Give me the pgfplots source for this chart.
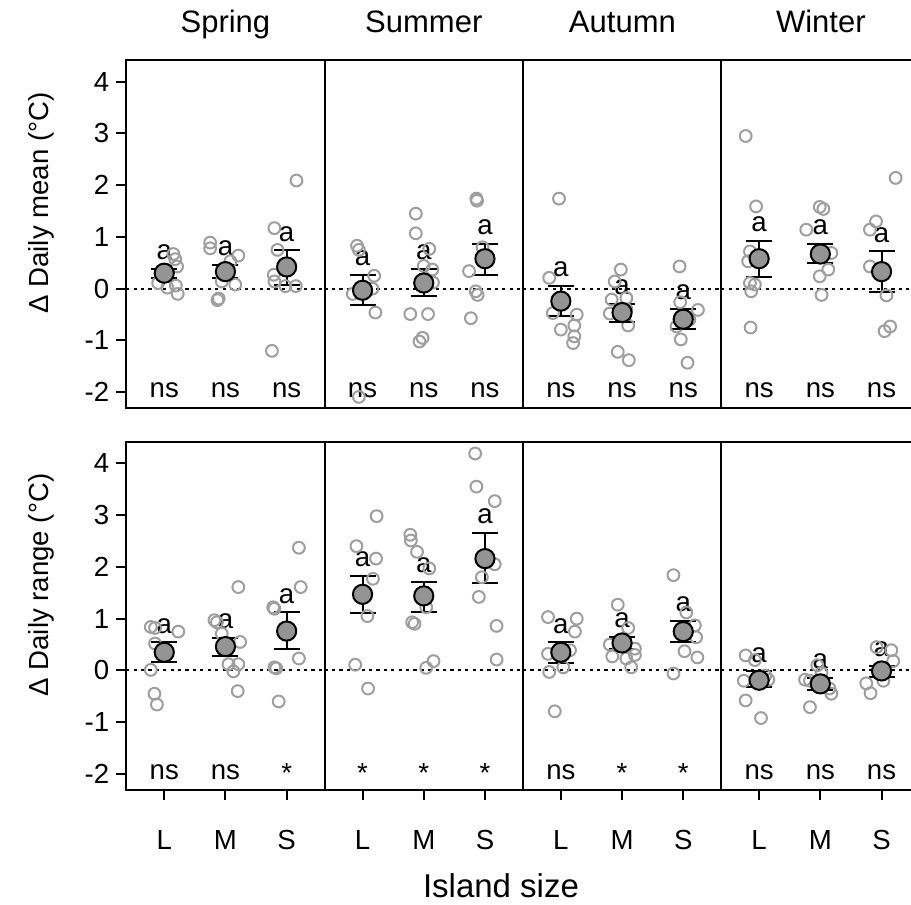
\documentclass[border=0pt]{standalone}
\usepackage{pgfplots}
\pgfplotsset{compat=1.18}
\usepackage{pgfplotstable}
\usepackage{fontspec}
\setmainfont{Liberation Sans}
\definecolor{ptgray}{gray}{0.62}
\definecolor{mngray}{gray}{0.58}
\newcommand{\fs}{\fontsize{13.8}{16}\selectfont}
\newcommand{\tfs}{\fontsize{15.5}{18}\selectfont}

% ---- points (x = category + jitter, y = value) ----
\pgfplotstableread{
x y
1.15 0.67
1.18 0.57
1.21 0.43
0.90 0.11
1.19 0.06
1.05 0.02
1.22 -0.10
1.75 0.89
1.75 0.78
2.21 0.64
2.08 0.53
1.94 0.14
2.16 0.08
1.89 -0.19
1.87 -0.22
3.16 2.09
2.80 1.17
2.85 0.75
2.79 0.27
2.80 0.14
2.98 0.05
3.15 0.05
2.76 -1.20
}\tA
\pgfplotstableread{
x y
0.91 0.83
0.94 0.75
1.19 0.25
1.16 0.00
0.84 -0.10
1.21 -0.46
0.94 -2.09
1.87 1.45
1.87 1.07
2.09 0.77
2.00 0.44
2.14 0.37
2.15 0.12
1.78 -0.49
2.07 -0.49
1.98 -0.95
1.93 -1.02
2.86 1.74
2.87 1.70
2.96 0.80
2.74 0.34
2.85 -0.05
2.88 -0.12
2.77 -0.57
}\tB
\pgfplotstableread{
x y
0.97 1.74
0.81 0.21
0.87 -0.47
1.26 -0.50
1.22 -0.71
1.00 -0.79
1.22 -0.92
1.20 -1.05
1.98 0.37
1.88 0.14
1.83 -0.21
2.07 -0.18
2.07 -0.40
1.80 -0.48
2.10 -0.71
1.93 -1.22
2.11 -1.38
2.94 0.43
2.95 -0.26
3.24 -0.41
3.10 -0.60
2.89 -0.73
2.96 -0.98
3.07 -1.43
}\tC
\pgfplotstableread{
x y
0.78 2.95
0.95 1.59
0.85 0.72
0.82 0.53
0.85 0.11
0.93 0.08
0.87 -0.05
0.86 -0.75
1.99 1.58
2.05 1.54
1.77 1.14
2.18 0.69
2.13 0.37
1.99 0.24
2.02 -0.12
3.23 2.14
2.91 1.30
2.81 1.14
2.81 0.43
3.08 -0.13
3.14 -0.73
3.05 -0.82
}\tD
\pgfplotstableread{
x y
0.78 0.84
0.85 0.82
1.23 0.75
0.85 0.52
0.78 0.01
0.84 -0.45
0.88 -0.66
2.21 1.61
1.82 0.97
1.86 0.93
1.94 0.71
2.24 0.55
2.05 0.12
2.21 0.12
2.13 -0.02
2.20 -0.40
3.20 2.37
3.23 1.61
2.78 1.22
2.80 1.19
3.20 0.23
2.80 0.06
2.83 0.04
2.87 -0.60
}\bA
\pgfplotstableread{
x y
1.23 2.98
0.90 2.40
1.22 2.16
1.17 1.77
1.08 1.05
0.88 0.11
1.09 -0.35
1.78 2.62
1.79 2.51
1.89 2.29
2.09 1.97
2.04 1.22
1.81 0.93
1.85 0.90
2.16 0.18
2.04 0.05
2.84 4.19
2.86 3.55
3.16 3.27
3.16 2.05
2.95 1.80
2.90 1.42
3.19 0.86
3.19 0.21
}\bB
\pgfplotstableread{
x y
0.79 1.03
1.26 1.00
1.23 0.75
1.15 0.39
0.79 0.32
1.04 0.06
0.81 -0.03
0.90 -0.79
1.93 1.27
2.10 0.82
1.80 0.50
2.21 0.42
2.21 0.30
1.84 0.27
2.07 0.23
2.15 0.06
2.84 1.84
3.05 1.12
3.19 0.87
3.21 0.64
3.02 0.37
3.23 0.25
2.84 -0.06
}\bC
\pgfplotstableread{
x y
0.78 0.29
0.93 0.20
1.10 -0.10
1.15 -0.18
0.75 -0.20
0.78 -0.58
1.03 -0.92
1.95 0.10
2.02 -0.05
1.75 -0.18
1.83 -0.20
2.15 -0.35
2.18 -0.45
1.83 -0.71
2.92 0.45
3.16 0.39
3.19 0.18
3.03 -0.20
2.75 -0.25
2.82 -0.44
}\bD

% ---- means with standard errors ----
\pgfplotstableread{
x y ep em
1 0.30 0.09 0.09
2 0.33 0.13 0.12
3 0.42 0.32 0.34
}\mtA
\pgfplotstableread{
x y ep em
1 -0.03 0.30 0.29
2 0.11 0.28 0.26
3 0.58 0.28 0.31
}\mtB
\pgfplotstableread{
x y ep em
1 -0.24 0.29 0.29
2 -0.46 0.17 0.18
3 -0.59 0.20 0.18
}\mtC
\pgfplotstableread{
x y ep em
1 0.58 0.35 0.36
2 0.67 0.20 0.17
3 0.33 0.39 0.40
}\mtD
\pgfplotstableread{
x y ep em
1 0.35 0.19 0.19
2 0.46 0.17 0.19
3 0.76 0.36 0.35
}\mbA
\pgfplotstableread{
x y ep em
1 1.47 0.35 0.37
2 1.44 0.27 0.31
3 2.16 0.50 0.48
}\mbB
\pgfplotstableread{
x y ep em
1 0.35 0.19 0.20
2 0.53 0.11 0.12
3 0.75 0.20 0.20
}\mbC
\pgfplotstableread{
x y ep em
1 -0.19 0.17 0.13
2 -0.26 0.11 0.11
3 -0.01 0.09 0.12
}\mbD

\pgfplotsset{
  panel/.style={anchor=south west, scale only axis, height=174.2pt,
    xmin=0.38, ymin=-2.31, ymax=4.42, clip=false,
    axis line style={line width=1pt},
    xtick=\empty, ytick=\empty,
    every tick/.style={line width=1pt, black},
    tick align=outside, major tick length=5pt,
    /pgf/number format/assume math mode=true,
    tick label style={font=\fs},
    xticklabel style={yshift=-11.5pt}},
  pts/.style={only marks, mark=o, mark size=2.95pt,
    mark options={draw=ptgray, line width=1pt}},
  zl/.style={black, line width=1pt, dash pattern=on 1.6pt off 2.1pt},
  mnbar/.style={only marks, mark=none,
    error bars/y dir=both, error bars/y explicit,
    error bars/error bar style={line width=1pt, black},
    error bars/error mark options={rotate=90, mark size=6.5pt, line width=1pt, black}},
  mn/.style={only marks, mark=*, mark size=4.8pt,
    mark options={fill=mngray, draw=black, line width=1pt}},
}

\begin{document}
\begin{tikzpicture}
% ================= TOP ROW =================
\begin{axis}[panel, at={(63.15pt,248.35pt)}, width=99.15pt, xmax=3.62,
  ytick={-2,-1,0,1,2,3,4}, ytick pos=left]
\addplot[pts] table {\tA};
\addplot[zl] coordinates {(0.38,0) (3.62,0)};
\addplot[mnbar] table[x=x,y=y,y error plus=ep,y error minus=em] {\mtA};
\addplot[mn] table[x=x,y=y] {\mtA};
\node[anchor=base,font=\fs] at (axis cs:1,0.57) {a};
\node[anchor=base,font=\fs] at (axis cs:2,0.64) {a};
\node[anchor=base,font=\fs] at (axis cs:3,0.92) {a};
\node[anchor=base,font=\fs] at (axis cs:1,-2.11) {ns};
\node[anchor=base,font=\fs] at (axis cs:2,-2.11) {ns};
\node[anchor=base,font=\fs] at (axis cs:3,-2.11) {ns};
\end{axis}
\begin{axis}[panel, at={(162.3pt,248.35pt)}, width=99.15pt, xmax=3.62]
\addplot[pts] table {\tB};
\addplot[zl] coordinates {(0.38,0) (3.62,0)};
\addplot[mnbar] table[x=x,y=y,y error plus=ep,y error minus=em] {\mtB};
\addplot[mn] table[x=x,y=y] {\mtB};
\node[anchor=base,font=\fs] at (axis cs:1,0.45) {a};
\node[anchor=base,font=\fs] at (axis cs:2,0.57) {a};
\node[anchor=base,font=\fs] at (axis cs:3,1.04) {a};
\node[anchor=base,font=\fs] at (axis cs:1,-2.11) {ns};
\node[anchor=base,font=\fs] at (axis cs:2,-2.11) {ns};
\node[anchor=base,font=\fs] at (axis cs:3,-2.11) {ns};
\end{axis}
\begin{axis}[panel, at={(261.45pt,248.35pt)}, width=99.15pt, xmax=3.62]
\addplot[pts] table {\tC};
\addplot[zl] coordinates {(0.38,0) (3.62,0)};
\addplot[mnbar] table[x=x,y=y,y error plus=ep,y error minus=em] {\mtC};
\addplot[mn] table[x=x,y=y] {\mtC};
\node[anchor=base,font=\fs] at (axis cs:1,0.23) {a};
\node[anchor=base,font=\fs] at (axis cs:2,-0.11) {a};
\node[anchor=base,font=\fs] at (axis cs:3,-0.21) {a};
\node[anchor=base,font=\fs] at (axis cs:1,-2.11) {ns};
\node[anchor=base,font=\fs] at (axis cs:2,-2.11) {ns};
\node[anchor=base,font=\fs] at (axis cs:3,-2.11) {ns};
\end{axis}
\begin{axis}[panel, at={(360.6pt,248.35pt)}, width=95.9pt, xmax=3.514]
\addplot[pts] table {\tD};
\addplot[zl] coordinates {(0.38,0) (3.514,0)};
\addplot[mnbar] table[x=x,y=y,y error plus=ep,y error minus=em] {\mtD};
\addplot[mn] table[x=x,y=y] {\mtD};
\node[anchor=base,font=\fs] at (axis cs:1,1.11) {a};
\node[anchor=base,font=\fs] at (axis cs:2,1.05) {a};
\node[anchor=base,font=\fs] at (axis cs:3,0.90) {a};
\node[anchor=base,font=\fs] at (axis cs:1,-2.11) {ns};
\node[anchor=base,font=\fs] at (axis cs:2,-2.11) {ns};
\node[anchor=base,font=\fs] at (axis cs:3,-2.11) {ns};
\end{axis}
% ================= BOTTOM ROW =================
\begin{axis}[panel, at={(63.15pt,57.5pt)}, width=99.15pt, xmax=3.62,
  ytick={-2,-1,0,1,2,3,4}, ytick pos=left,
  xtick={1,2,3}, xticklabels={L,M,S}, xtick pos=left]
\addplot[pts] table {\bA};
\addplot[zl] coordinates {(0.38,0) (3.62,0)};
\addplot[mnbar] table[x=x,y=y,y error plus=ep,y error minus=em] {\mbA};
\addplot[mn] table[x=x,y=y] {\mbA};
\node[anchor=base,font=\fs] at (axis cs:1,0.72) {a};
\node[anchor=base,font=\fs] at (axis cs:2,0.81) {a};
\node[anchor=base,font=\fs] at (axis cs:3,1.30) {a};
\node[anchor=base,font=\fs] at (axis cs:1,-2.11) {ns};
\node[anchor=base,font=\fs] at (axis cs:2,-2.11) {ns};
\node[font=\fs] at (axis cs:3,-1.99) {*};
\end{axis}
\begin{axis}[panel, at={(162.3pt,57.5pt)}, width=99.15pt, xmax=3.62,
  xtick={1,2,3}, xticklabels={L,M,S}, xtick pos=left]
\addplot[pts] table {\bB};
\addplot[zl] coordinates {(0.38,0) (3.62,0)};
\addplot[mnbar] table[x=x,y=y,y error plus=ep,y error minus=em] {\mbB};
\addplot[mn] table[x=x,y=y] {\mbB};
\node[anchor=base,font=\fs] at (axis cs:1,2.00) {a};
\node[anchor=base,font=\fs] at (axis cs:2,1.89) {a};
\node[anchor=base,font=\fs] at (axis cs:3,2.84) {a};
\node[font=\fs] at (axis cs:1,-1.99) {*};
\node[font=\fs] at (axis cs:2,-1.99) {*};
\node[font=\fs] at (axis cs:3,-1.99) {*};
\end{axis}
\begin{axis}[panel, at={(261.45pt,57.5pt)}, width=99.15pt, xmax=3.62,
  xtick={1,2,3}, xticklabels={L,M,S}, xtick pos=left]
\addplot[pts] table {\bC};
\addplot[zl] coordinates {(0.38,0) (3.62,0)};
\addplot[mnbar] table[x=x,y=y,y error plus=ep,y error minus=em] {\mbC};
\addplot[mn] table[x=x,y=y] {\mbC};
\node[anchor=base,font=\fs] at (axis cs:1,0.72) {a};
\node[anchor=base,font=\fs] at (axis cs:2,0.82) {a};
\node[anchor=base,font=\fs] at (axis cs:3,1.13) {a};
\node[anchor=base,font=\fs] at (axis cs:1,-2.11) {ns};
\node[font=\fs] at (axis cs:2,-1.99) {*};
\node[font=\fs] at (axis cs:3,-1.99) {*};
\end{axis}
\begin{axis}[panel, at={(360.6pt,57.5pt)}, width=95.9pt, xmax=3.514,
  xtick={1,2,3}, xticklabels={L,M,S}, xtick pos=left]
\addplot[pts] table {\bD};
\addplot[zl] coordinates {(0.38,0) (3.514,0)};
\addplot[mnbar] table[x=x,y=y,y error plus=ep,y error minus=em] {\mbD};
\addplot[mn] table[x=x,y=y] {\mbD};
\node[anchor=base,font=\fs] at (axis cs:1,0.16) {a};
\node[anchor=base,font=\fs] at (axis cs:2,0.03) {a};
\node[anchor=base,font=\fs] at (axis cs:3,0.26) {a};
\node[anchor=base,font=\fs] at (axis cs:1,-2.11) {ns};
\node[anchor=base,font=\fs] at (axis cs:2,-2.11) {ns};
\node[anchor=base,font=\fs] at (axis cs:3,-2.11) {ns};
\end{axis}
% ================= outer texts =================
\node[anchor=base,font=\tfs] at (112.7pt,436pt) {Spring};
\node[anchor=base,font=\tfs] at (211.9pt,436pt) {Summer};
\node[anchor=base,font=\tfs] at (311.2pt,436pt) {Autumn};
\node[anchor=base,font=\tfs] at (410.4pt,436pt) {Winter};
\node[anchor=base,font=\fontsize{16.5}{19}\selectfont] at (250.5pt,3.5pt) {Island size};
\node[anchor=base,rotate=90,font=\fs] at (24.5pt,351pt) {Δ Daily mean (°C)};
\node[anchor=base,rotate=90,font=\fs] at (24.5pt,160pt) {Δ Daily range (°C)};
\pgfresetboundingbox
\path[use as bounding box] (0,0) rectangle (455.5pt,452.5pt);
\end{tikzpicture}
\end{document}
